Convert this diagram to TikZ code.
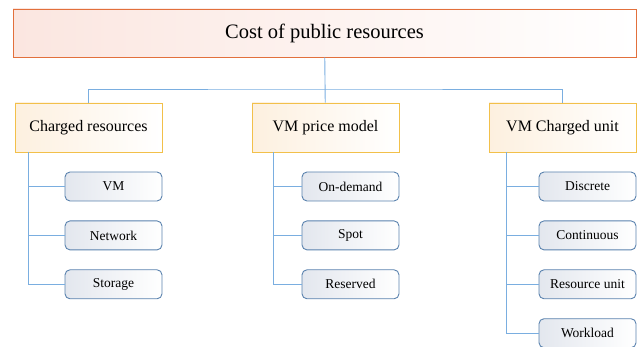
\documentclass[tikz,border=0pt]{standalone}
\usepackage{fontspec}
\setmainfont{Liberation Serif}
\usepackage{tikz}
\usetikzlibrary{positioning}
\definecolor{rootline}{HTML}{E2703C}
\definecolor{rootfill}{HTML}{FBE6E0}
\definecolor{catline}{HTML}{F2C04A}
\definecolor{catfill}{HTML}{FDF0DF}
\definecolor{leafline}{HTML}{5A82AE}
\definecolor{leaffill}{HTML}{E3E7EE}
\definecolor{wire}{HTML}{7AAEE0}
\tikzstyle{rootbox}=[draw=rootline,line width=0.9pt,rectangle,left color=rootfill,right color=white,minimum width=623pt,minimum height=48pt,font=\fontsize{20.5}{22}\selectfont]
\tikzstyle{catbox}=[draw=catline,line width=0.9pt,rectangle,left color=catfill,right color=white,minimum width=147pt,minimum height=49pt,font=\fontsize{16}{18}\selectfont]
\tikzstyle{leafbox}=[draw=leafline,line width=0.9pt,rectangle,rounded corners=5pt,left color=leaffill,right color=white,minimum width=97pt,minimum height=29pt,font=\fontsize{13.5}{15}\selectfont]
\tikzstyle{link}=[draw=wire,line width=0.9pt]

\begin{document}
\begin{tikzpicture}[x=1pt,y=-1pt]
  \useasboundingbox (0,0) rectangle (637,347);
  \node[rootbox] (root) at (324.5,33) {Cost of public resources};
  \node[catbox] (cres) at (88.5,127.5) {Charged resources};
  \node[catbox] (price) at (325.5,127.5) {VM price model};
  \node[catbox] (unit) at (562.5,127.5) {VM Charged unit};
  % leaves
  \node[leafbox] (vm) at (113.5,186.5) {VM};
  \node[leafbox, below=19pt of vm] (net) {Network};
  \node[leafbox, below=19pt of net] (store) {Storage};
  \node[leafbox] (ondem) at (350.5,186.5) {On-demand};
  \node[leafbox, below=19pt of ondem] (spot) {Spot};
  \node[leafbox, below=19pt of spot] (resv) {Reserved};
  \node[leafbox] (disc) at (587.5,186.5) {Discrete};
  \node[leafbox, below=19pt of disc] (cont) {Continuous};
  \node[leafbox, below=19pt of cont] (runit) {Resource unit};
  \node[leafbox, below=19pt of runit] (work) {Workload};
  \coordinate (bus) at (325,89);
  \coordinate (t1) at (28,0);
  \coordinate (t2) at (273,0);
  \coordinate (t3) at (506,0);
  \draw[link] (root) -- (price);
  \draw[link] (cres.north) |- (bus) -| (unit.north);
  \draw[link] (cres.south -| t1) |- (store);
  \draw[link] (t1 |- vm) -- (vm);
  \draw[link] (t1 |- net) -- (net);
  \draw[link] (price.south -| t2) |- (resv);
  \draw[link] (t2 |- ondem) -- (ondem);
  \draw[link] (t2 |- spot) -- (spot);
  \draw[link] (unit.south -| t3) |- (work);
  \draw[link] (t3 |- disc) -- (disc);
  \draw[link] (t3 |- cont) -- (cont);
  \draw[link] (t3 |- runit) -- (runit);
\end{tikzpicture}
\end{document}
